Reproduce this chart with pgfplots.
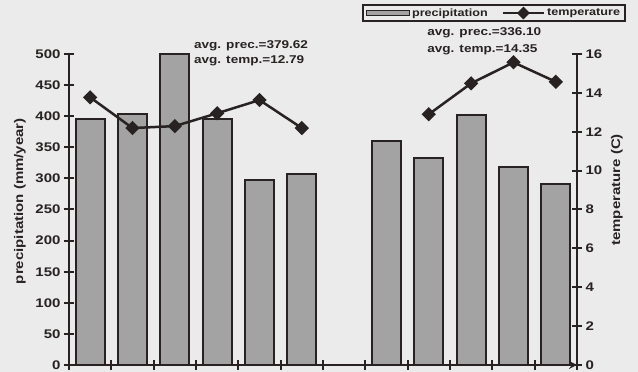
\documentclass[border=0pt]{standalone}
\usepackage{fontspec}
\setmainfont[FakeStretch=1.2]{Liberation Sans}
\usepackage{pgfplots}
\pgfplotsset{compat=1.18}
\definecolor{bg}{HTML}{EBEBEB}
\definecolor{barfill}{HTML}{A3A3A3}
\definecolor{ink}{HTML}{282222}
\newcommand{\tickfont}{\bfseries\fontsize{12.5}{14}\selectfont}
\newcommand{\labfont}{\bfseries\fontsize{12.5}{14}\selectfont}
\newcommand{\annfont}{\bfseries\fontsize{11.3}{13}\selectfont}
\newcommand{\legfont}{\bfseries\fontsize{10.5}{12}\selectfont}
\pgfplotsset{
  common/.style={
    at={(69pt,7pt)}, anchor=south west,
    scale only axis, width=508pt, height=311pt,
    xmin=-0.5, xmax=11.5,
    axis line style={ink, line width=2.5pt, -},
    every tick/.style={ink, line width=2pt},
    major tick length=10pt, tick align=center,
    tick label style={font=\tickfont, text=ink},
    /pgf/number format/assume math mode=true,
    label style={font=\labfont, text=ink},
    clip=false,
  },
}
\begin{document}
\begin{tikzpicture}[x=1pt,y=1pt]
\fill[bg] (0,0) rectangle (638,372);
\useasboundingbox (0,0) rectangle (638,372);
\begin{axis}[common,
  ymin=0, ymax=500,
  axis x line=bottom, axis y line*=left,
  xtick={-0.5,0.5,...,11.5}, xticklabels={},
  xticklabel style={inner sep=0pt, font=\tiny},
  ytick={0,50,...,500},
  ylabel={precipitation (mm/year)},
  ylabel style={at={(axis description cs:-0.0965,0.527)}, anchor=center},
  legend columns=2,
  legend style={at={(axis description cs:1.0965,1.1608)}, anchor=north east,
    draw=ink, line width=2pt, fill=bg, font=\legfont, text=ink,
    inner xsep=3pt, inner ysep=1.5pt,
    /tikz/every even column/.append style={column sep=12pt}},
]
\addplot[ybar, bar width=29pt, bar shift=0pt, fill=barfill, draw=ink, line width=2pt,
  legend image code/.code={\draw[fill=barfill, draw=ink, line width=1.5pt] (0pt,-2.5pt) rectangle (43pt,2.5pt);}]
  coordinates {(0,395.5) (1,403.5) (2,500) (3,395) (4,297) (5,306.6)
               (7,360.6) (8,332.3) (9,402) (10,317.8) (11,290.5)};
\addlegendentry{precipitation}
\addlegendimage{legend image code/.code={\draw[ink, line width=2.5pt] (0pt,0pt) -- (41pt,0pt); \fill[ink] (20.5pt,0pt) +(0,5pt) -- +(5pt,0) -- +(0,-5pt) -- +(-5pt,0) -- cycle;}}
\addlegendentry{temperature}
\node[anchor=west, inner sep=0pt, font=\annfont, text=ink] at (axis cs:2.45,514) {avg. prec.=379.62};
\node[anchor=west, inner sep=0pt, font=\annfont, text=ink] at (axis cs:2.45,488.7) {avg. temp.=12.79};
\node[anchor=west, inner sep=0pt, font=\annfont, text=ink] at (axis cs:7.96,533.8) {avg. prec.=336.10};
\node[anchor=west, inner sep=0pt, font=\annfont, text=ink] at (axis cs:7.96,506.4) {avg. temp.=14.35};
\end{axis}
\begin{axis}[common,
  ymin=0, ymax=16,
  axis x line=none, axis y line*=right,
  xtick=\empty,
  ytick={0,2,...,16},
  ylabel={temperature (C)},
  ylabel style={at={(axis description cs:1.0787,0.563)}, anchor=center},
]
\addplot[ink, line width=2.5pt, mark=square*, mark size=3.8pt, mark options={rotate=45}]
  coordinates {(0,13.77) (1,12.19) (2,12.29) (3,12.95) (4,13.63) (5,12.19)};
\addplot[ink, line width=2.5pt, mark=square*, mark size=3.8pt, mark options={rotate=45}]
  coordinates {(8,12.9) (9,14.49) (10,15.57) (11,14.57)};
\end{axis}
\end{tikzpicture}
\end{document}
